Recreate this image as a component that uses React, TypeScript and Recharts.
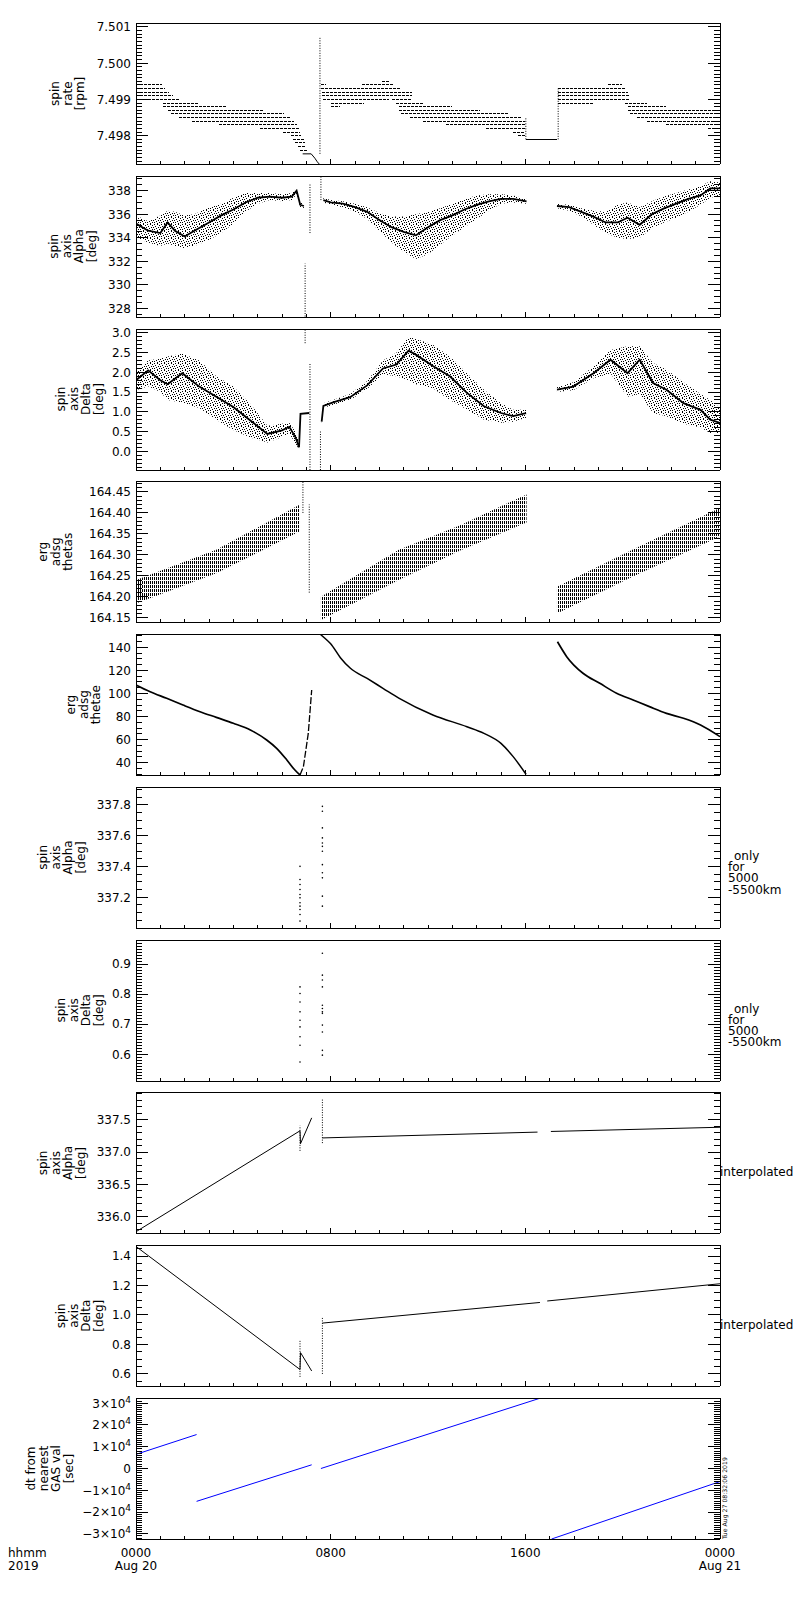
import React from 'react';
import { Area, ComposedChart, Line, XAxis, YAxis } from 'recharts';

const FONT = '"DejaVu Sans", Verdana, sans-serif';
const INK = '#000';
const BLUE = '#0000ff';

// x axis: hours after 2019-08-20 0000 UT
const X_MAJOR = [0, 8, 16, 24];
const X_HOURS = [0, 1, 2, 3, 4, 5, 6, 7, 8, 9, 10, 11, 12, 13, 14, 15, 16, 17, 18, 19, 20, 21, 22, 23, 24];
const X_TIME_LABELS = ['0000', '0800', '1600', '0000'];
const X_DATE_LABELS = ['Aug 20', '', '', 'Aug 21'];

// spin rate [rpm]: quantised levels as [level, from h, to h]
const RATE_RUNS: [number, number, number][] = [
  [7.4994, 0, 1.06], [7.4993, 0, 1.2], [7.4992, 0, 1.35], [7.4991, 0, 1.5], [7.499, 0, 1.75],
  [7.4989, 1.1, 2.56], [7.4988, 1.1, 3.7], [7.4987, 1.3, 5.2], [7.4986, 1.45, 6.1],
  [7.4985, 1.75, 6.35], [7.4984, 2.3, 6.5], [7.4983, 3.4, 6.6], [7.4982, 5.1, 6.7],
  [7.4981, 6.05, 6.75], [7.498, 6.35, 6.8], [7.4979, 6.45, 6.9], [7.4978, 6.55, 6.95],
  [7.4977, 6.65, 7.0], [7.4976, 6.75, 7.05],
  [7.4995, 10.1, 10.44], [7.4994, 7.6, 7.8], [7.4994, 9.28, 10.58], [7.4993, 7.6, 10.85],
  [7.4992, 7.65, 11.33], [7.4991, 7.65, 11.33], [7.499, 7.7, 10.4], [7.499, 10.5, 11.33],
  [7.4989, 8.0, 9.35], [7.4989, 10.7, 11.8], [7.4988, 8.0, 8.4], [7.4988, 10.8, 12.97],
  [7.4987, 10.8, 14.14], [7.4986, 10.9, 15.3], [7.4985, 11.26, 15.85], [7.4984, 11.8, 16.0],
  [7.4983, 12.75, 16.0], [7.4982, 14.4, 16.0], [7.4981, 15.5, 16.0], [7.498, 15.7, 16.0],
  [7.4994, 19.4, 19.96], [7.4993, 17.35, 20.1], [7.4992, 17.35, 20.2], [7.4991, 17.35, 20.3],
  [7.499, 17.35, 20.3], [7.4989, 17.35, 18.8], [7.4989, 20.1, 21.0], [7.4988, 20.2, 21.8],
  [7.4987, 20.2, 23.9], [7.4986, 20.3, 24], [7.4985, 20.6, 24], [7.4984, 21.0, 24],
  [7.4983, 21.8, 23.9], [7.4982, 23.5, 23.9],
];
const RATE_FLAT: [number, number][] = [[16.03, 7.4979], [17.32, 7.4979]];
const RATE_DROP: [number, number][] = [[6.85, 7.4975], [7.2, 7.4975], [7.35, 7.49738], [7.45, 7.49728], [7.53, 7.49722]];
const RATE_SPIKES: [number, number, number][] = [[7.56, 7.4975, 7.50073], [16.02, 7.4979, 7.4985], [17.35, 7.4979, 7.4993]];

// spin axis alpha [deg]: [h, dense core, cloud low, cloud high]
const ALPHA_CLOUD_A: [number, number, number, number][] = [
  [0, 335.2, 334.0, 335.9], [0.5, 334.6, 333.6, 335.4], [1.0, 334.4, 333.3, 335.9],
  [1.3, 335.3, 333.5, 336.3], [1.6, 334.6, 333.3, 336.2], [2.0, 334.1, 333.1, 335.9],
  [2.4, 334.6, 333.3, 336.0], [3.0, 335.3, 333.8, 336.6], [3.5, 335.9, 334.4, 336.9],
  [4.0, 336.4, 335.2, 337.4], [4.5, 337.0, 336.2, 337.8], [5.0, 337.4, 336.9, 337.8],
  [5.5, 337.5, 337.2, 337.8], [6.0, 337.4, 337.1, 337.7], [6.4, 337.5, 337.2, 337.8],
  [6.6, 338.0, 337.7, 338.2], [6.75, 336.8, 336.6, 337.0], [6.9, 336.7, 336.5, 336.9],
];
const ALPHA_CLOUD_B: [number, number, number, number][] = [
  [7.7, 337.2, 337.0, 337.4], [8.0, 337.0, 336.8, 337.2], [8.5, 336.9, 336.6, 337.1],
  [9.0, 336.6, 336.2, 336.9], [9.5, 336.2, 335.6, 336.6], [10.0, 335.5, 334.6, 336.1],
  [10.5, 334.9, 333.6, 335.8], [11.0, 334.5, 332.8, 335.8], [11.5, 334.2, 332.2, 336.0],
  [12.0, 334.9, 332.6, 336.2], [12.5, 335.5, 333.4, 336.5], [13.0, 335.9, 334.2, 336.9],
  [13.5, 336.4, 334.9, 337.3], [14.0, 336.8, 335.6, 337.6], [14.5, 337.1, 336.3, 337.7],
  [15.0, 337.3, 336.9, 337.7], [15.5, 337.3, 337.0, 337.6], [16.05, 337.1, 336.9, 337.3],
];
const ALPHA_CLOUD_C: [number, number, number, number][] = [
  [17.3, 336.7, 336.5, 336.9], [17.8, 336.6, 336.3, 336.8], [18.3, 336.2, 335.8, 336.5],
  [18.8, 335.8, 335.1, 336.3], [19.3, 335.3, 334.4, 336.2], [19.8, 335.3, 334.0, 336.8],
  [20.2, 335.7, 333.9, 337.0], [20.7, 335.1, 334.0, 336.6], [21.2, 336.0, 334.8, 337.1],
  [21.7, 336.5, 335.3, 337.5], [22.2, 336.9, 335.7, 337.8], [22.7, 337.3, 336.2, 338.1],
  [23.2, 337.6, 336.8, 338.4], [23.6, 338.2, 337.4, 338.8], [24, 338.2, 337.6, 338.7],
];
const ALPHA_SPIKES: [number, number, number][] = [[6.95, 327.3, 331.8], [7.15, 334.4, 338.6], [7.6, 337.2, 339.2]];

// spin axis delta [deg]
const DELTA_CLOUD_A: [number, number, number, number][] = [
  [0, 1.8, 1.55, 2.05], [0.5, 2.05, 1.65, 2.3], [1.0, 1.8, 1.5, 2.35], [1.3, 1.7, 1.3, 2.4],
  [1.9, 1.98, 1.23, 2.48], [2.6, 1.64, 1.1, 2.3], [3.3, 1.38, 0.8, 1.9], [4.0, 1.12, 0.54, 1.64],
  [4.7, 0.78, 0.35, 1.2], [5.4, 0.44, 0.22, 0.65], [6.0, 0.53, 0.36, 0.7], [6.3, 0.62, 0.45, 0.72],
  [6.55, 0.36, 0.2, 0.5], [6.7, 0.1, 0.05, 0.25],
];
const DELTA_JUMP: [number, number][] = [[6.7, 0.1], [6.76, 0.95], [7.12, 0.97]];
const DELTA_CLOUD_B: [number, number, number, number][] = [
  [7.63, 0.75, 0.7, 0.8], [7.7, 1.15, 1.1, 1.22], [8.1, 1.24, 1.18, 1.3], [8.8, 1.37, 1.3, 1.45],
  [9.5, 1.67, 1.58, 1.78], [10.15, 2.1, 1.95, 2.3], [10.7, 2.2, 1.9, 2.5], [11.2, 2.55, 1.8, 2.9],
  [11.5, 2.45, 1.7, 2.85], [12.2, 2.16, 1.6, 2.7], [12.9, 1.9, 1.3, 2.4], [13.6, 1.48, 1.06, 1.98],
  [14.3, 1.14, 0.8, 1.56], [15.0, 0.97, 0.72, 1.22], [15.5, 0.89, 0.75, 1.05], [16.03, 0.97, 0.85, 1.05],
];
const DELTA_CLOUD_C: [number, number, number, number][] = [
  [17.3, 1.56, 1.5, 1.62], [17.97, 1.64, 1.55, 1.75], [18.8, 1.98, 1.85, 2.15], [19.5, 2.32, 1.97, 2.57],
  [20.2, 1.98, 1.38, 2.66], [20.7, 2.32, 1.45, 2.66], [21.25, 1.73, 0.97, 2.24], [21.8, 1.56, 0.89, 2.07],
  [22.5, 1.22, 0.7, 1.75], [23.2, 1.05, 0.6, 1.45], [23.6, 0.8, 0.46, 1.3], [24, 0.72, 0.46, 1.1],
];
const DELTA_SPIKES: [number, number, number][] = [[6.95, 2.74, 3.1], [7.15, -0.475, 2.25], [7.58, -0.475, 0.5]];

// erg adsg thetas: [h, low, high]
const THETAS_A: [number, number, number][] = [[0, 164.184, 164.24], [3.3, 164.256, 164.312], [6.74, 164.356, 164.42]];
const THETAS_B: [number, number, number][] = [[7.6, 164.145, 164.2], [10.8, 164.24, 164.312], [13.3, 164.31, 164.37], [16.05, 164.377, 164.444]];
const THETAS_C: [number, number, number][] = [[17.3, 164.16, 164.224], [20.4, 164.248, 164.312], [24, 164.344, 164.412]];
const THETAS_SPIKES: [number, number, number][] = [[6.86, 164.4, 164.476], [7.12, 164.21, 164.42]];

// erg adsg thetae: [h, value]
const THETAE_A: [number, number][] = [
  [0, 107.3], [0.58, 101.5], [1.26, 95.8], [1.93, 90.0], [2.63, 84.2], [3.3, 79.3], [4.0, 74.2],
  [4.7, 68.4], [5.37, 59.7], [5.78, 52.5], [6.2, 42.4], [6.53, 33.7], [6.74, 29.4],
];
const THETAE_RISE: [number, number][] = [[6.74, 29.4], [6.88, 36.6], [7.08, 65.4], [7.22, 103]];
const THETAE_B: [number, number][] = [
  [7.56, 151.5], [7.75, 148], [8.0, 143], [8.4, 131], [8.8, 122], [9.5, 113], [10.15, 104.5],
  [10.8, 96], [12.2, 81.4], [13.6, 71.2], [14.3, 65.5], [15.0, 56.8], [15.5, 45.3], [16.03, 30.0],
];
const THETAE_C: [number, number][] = [
  [17.32, 144.8], [17.7, 131.9], [18.37, 117.5], [19.06, 108.8], [19.75, 100.2], [20.43, 94.4],
  [21.1, 88.6], [21.8, 82.8], [22.5, 78.5], [23.2, 72.7], [24, 62.6],
];

// spin axis alpha / delta, only for 5000-5500 km: [h, value]
const ALPHA_RANGE_PTS: [number, number][] = [
  [6.74, 337.401], [6.74, 337.315], [6.74, 337.283], [6.74, 337.25], [6.74, 337.218], [6.74, 337.196],
  [6.74, 337.164], [6.74, 337.142], [6.74, 337.12], [6.74, 337.088], [6.74, 337.045],
  [7.66, 337.791], [7.66, 337.759], [7.66, 337.651], [7.66, 337.586], [7.66, 337.553], [7.66, 337.531],
  [7.66, 337.499], [7.66, 337.412], [7.66, 337.359], [7.66, 337.326], [7.66, 337.207], [7.66, 337.142],
];
const DELTA_RANGE_PTS: [number, number][] = [
  [6.74, 0.824], [6.74, 0.802], [6.74, 0.774], [6.74, 0.741], [6.74, 0.713], [6.74, 0.691],
  [6.74, 0.658], [6.74, 0.63], [6.74, 0.574],
  [7.66, 0.936], [7.66, 0.863], [7.66, 0.847], [7.66, 0.824], [7.66, 0.763], [7.66, 0.752],
  [7.66, 0.741], [7.66, 0.736], [7.66, 0.697], [7.66, 0.674], [7.66, 0.613], [7.66, 0.597],
];

// interpolated alpha / delta
const ALPHA_INTERP_A: [number, number][] = [[0, 335.77], [6.74, 337.33], [6.76, 337.13], [7.22, 337.53]];
const ALPHA_INTERP_B: [number, number][] = [[7.66, 337.22], [16.5, 337.31]];
const ALPHA_INTERP_C: [number, number][] = [[17.05, 337.32], [24, 337.385]];
const ALPHA_INTERP_SPIKES: [number, number, number][] = [[6.74, 337.02, 337.41], [7.66, 337.14, 337.83]];
const DELTA_INTERP_A: [number, number][] = [[0, 1.465], [6.74, 0.63], [6.76, 0.745], [7.22, 0.62]];
const DELTA_INTERP_B: [number, number][] = [[7.66, 0.945], [16.6, 1.085]];
const DELTA_INTERP_C: [number, number][] = [[16.9, 1.095], [24, 1.212]];
const DELTA_INTERP_SPIKES: [number, number, number][] = [[6.74, 0.58, 0.83], [7.66, 0.6, 0.98]];

// dt from nearest GAS value [sec]
const GAS_DT: [number, number][][] = [
  [[0, 6500], [2.49, 15600]],
  [[2.49, -15100], [7.22, 1700]],
  [[7.6, 0], [16.63, 32400]],
  [[17.08, -32400], [24, -6000]],
];

// layout
const PLOT_TOP = 23;
const PLOT_PITCH = 152.78;
const PLOT_H = 141;
const PLOT_LEFT = 136;
const PLOT_RIGHT = 720;
const Y_AXIS_W = 60;
const SPECK: [number, number][] = [[0, 0], [3, 0], [5, 1], [1, 2], [4, 3], [6, 3], [2, 4], [0, 5], [5, 5], [3, 6]];

const NOTE_RANGE = ['only', 'for', '5000', '-5500km'];
const NOTE_INTERP = ['interpolated'];

const pts = (rows: [number, number][]) => rows.map(([h, v]) => ({ h, v }));

const line = (key: string, rows: [number, number][], extra: any = {}) => (
  <Line
    key={key}
    data={pts(rows)}
    dataKey="v"
    xAxisId="b"
    yAxisId="l"
    type="linear"
    stroke={INK}
    strokeWidth={1}
    dot={false}
    activeDot={false}
    isAnimationActive={false}
    {...extra}
  />
);

const spike = (key: string, [h, lo, hi]: [number, number, number]) =>
  line(key, [[h, lo], [h, hi]], { strokeDasharray: '1 1.5' });

const cloud = (key: string, rows: [number, number, number][], fill: string) => (
  <Area
    key={key}
    data={rows.map(([h, lo, hi]) => ({ h, r: [lo, hi] }))}
    dataKey="r"
    xAxisId="b"
    yAxisId="l"
    type="linear"
    stroke="none"
    fill={fill}
    fillOpacity={1}
    dot={false}
    activeDot={false}
    isAnimationActive={false}
  />
);

const withCore = (key: string, rows: [number, number, number, number][]) => [
  cloud(key + '-c', rows.map(r => [r[0], r[2], r[3]] as [number, number, number]), 'url(#speck)'),
  line(key + '-l', rows.map(r => [r[0], r[1]] as [number, number]), { strokeWidth: 1.8 }),
];

const dots = (key: string, rows: [number, number][]) =>
  line(key, rows, { stroke: 'none', dot: { r: 0.8, fill: INK, stroke: 'none' } });

const sciTick = (v: number) =>
  v === 0 ? (
    '0'
  ) : (
    <>
      {v < 0 ? '\u2212' : ''}
      {Math.abs(v) / 1e4}×10
      <tspan dy={-5} fontSize={9}>4</tspan>
    </>
  );

const PANELS = [
  {
    title: ['spin', 'rate', '[rpm]'], titleX: 55,
    domain: [7.49722, 7.50111], major: [7.498, 7.499, 7.5, 7.501], minorStep: 0.0001,
    fmt: (v: number) => v.toFixed(3),
    render: () => [
      ...RATE_RUNS.map(([lv, a, b], i) =>
        line('run' + i, [[a, lv], [b, lv]], { strokeDasharray: '3 1', shapeRendering: 'crispEdges' })),
      line('flat', RATE_FLAT, { shapeRendering: 'crispEdges' }),
      line('drop', RATE_DROP),
      ...RATE_SPIKES.map((s, i) => spike('sp' + i, s)),
    ],
  },
  {
    title: ['spin', 'axis', 'Alpha', '[deg]'], titleX: 54,
    domain: [327.26, 339.25], major: [328, 330, 332, 334, 336, 338], minorStep: 0.5,
    fmt: (v: number) => v.toFixed(0),
    render: () => [
      ...withCore('a', ALPHA_CLOUD_A), ...withCore('b', ALPHA_CLOUD_B), ...withCore('c', ALPHA_CLOUD_C),
      ...ALPHA_SPIKES.map((s, i) => spike('sp' + i, s)),
    ],
  },
  {
    title: ['spin', 'axis', 'Delta', '[deg]'], titleX: 61,
    domain: [-0.475, 3.1], major: [0, 0.5, 1.0, 1.5, 2.0, 2.5, 3.0], minorStep: 0.1,
    fmt: (v: number) => v.toFixed(1),
    render: () => [
      ...withCore('a', DELTA_CLOUD_A), line('jump', DELTA_JUMP, { strokeWidth: 1.8 }),
      ...withCore('b', DELTA_CLOUD_B), ...withCore('c', DELTA_CLOUD_C),
      ...DELTA_SPIKES.map((s, i) => spike('sp' + i, s)),
    ],
  },
  {
    title: ['erg', 'adsg', 'thetas'], titleX: 43,
    domain: [164.14, 164.476], major: [164.15, 164.2, 164.25, 164.3, 164.35, 164.4, 164.45], minorStep: 0.01,
    fmt: (v: number) => v.toFixed(2),
    render: () => [
      cloud('a', THETAS_A, 'url(#hatch)'), cloud('b', THETAS_B, 'url(#hatch)'), cloud('c', THETAS_C, 'url(#hatch)'),
      ...THETAS_SPIKES.map((s, i) => spike('sp' + i, s)),
    ],
  },
  {
    title: ['erg', 'adsg', 'thetae'], titleX: 71,
    domain: [29.4, 151.5], major: [40, 60, 80, 100, 120, 140], minorStep: 5,
    fmt: (v: number) => v.toFixed(0),
    render: () => [
      line('a', THETAE_A, { strokeWidth: 1.7, type: 'monotone' }),
      line('r', THETAE_RISE, { strokeWidth: 1.3, strokeDasharray: '7 2' }),
      line('b', THETAE_B, { strokeWidth: 1.5, type: 'monotone' }),
      line('c', THETAE_C, { strokeWidth: 1.7, type: 'monotone' }),
    ],
  },
  {
    title: ['spin', 'axis', 'Alpha', '[deg]'], titleX: 43, note: NOTE_RANGE,
    domain: [337.0, 337.917], major: [337.2, 337.4, 337.6, 337.8], minorStep: 0.05,
    fmt: (v: number) => v.toFixed(1),
    render: () => [dots('d', ALPHA_RANGE_PTS)],
  },
  {
    title: ['spin', 'axis', 'Delta', '[deg]'], titleX: 61, note: NOTE_RANGE,
    domain: [0.511, 0.98], major: [0.6, 0.7, 0.8, 0.9], minorStep: 0.01,
    fmt: (v: number) => v.toFixed(1),
    render: () => [dots('d', DELTA_RANGE_PTS)],
  },
  {
    title: ['spin', 'axis', 'Alpha', '[deg]'], titleX: 43, note: NOTE_INTERP,
    domain: [335.75, 337.93], major: [336.0, 336.5, 337.0, 337.5], minorStep: 0.1,
    fmt: (v: number) => v.toFixed(1),
    render: () => [
      line('a', ALPHA_INTERP_A), line('b', ALPHA_INTERP_B), line('c', ALPHA_INTERP_C),
      ...ALPHA_INTERP_SPIKES.map((s, i) => spike('sp' + i, s)),
    ],
  },
  {
    title: ['spin', 'axis', 'Delta', '[deg]'], titleX: 61, note: NOTE_INTERP,
    domain: [0.518, 1.475], major: [0.6, 0.8, 1.0, 1.2, 1.4], minorStep: 0.05,
    fmt: (v: number) => v.toFixed(1),
    render: () => [
      line('a', DELTA_INTERP_A), line('b', DELTA_INTERP_B), line('c', DELTA_INTERP_C),
      ...DELTA_INTERP_SPIKES.map((s, i) => spike('sp' + i, s)),
    ],
  },
  {
    title: ['dt from', 'nearest', 'GAS val', '[sec]'], titleX: 31,
    domain: [-32400, 32400], major: [-30000, -20000, -10000, 0, 10000, 20000, 30000], minorStep: 1000,
    fmt: sciTick,
    render: () => GAS_DT.map((seg, i) => line('g' + i, seg, { stroke: BLUE })),
  },
];

function minorTicks([lo, hi]: number[], step: number) {
  const out: number[] = [];
  const n0 = Math.ceil(lo / step - 1e-9);
  const n1 = Math.floor(hi / step + 1e-9);
  for (let n = n0; n <= n1; n++) out.push(+(n * step).toFixed(6));
  return out;
}

const isMajor = (v: number, major: number[]) =>
  major.some(m => Math.abs(m - v) < 1e-7 * (Math.abs(m) + 1));

const textStyle = { fontSize: 12, fontFamily: FONT, fill: INK };

const LeftTick = (props: any) => {
  const { x, y, payload, major, fmt } = props;
  const big = isMajor(payload.value, major);
  return (
    <g>
      <line x1={x} x2={x + (big ? 12 : 6)} y1={y} y2={y} stroke={INK} shapeRendering="crispEdges" />
      {big && (
        <text x={x - 5} y={y} dy="0.36em" textAnchor="end" {...textStyle}>
          {fmt(payload.value)}
        </text>
      )}
    </g>
  );
};

const RightTick = (props: any) => {
  const { x, y, payload, major } = props;
  const big = isMajor(payload.value, major);
  return <line x1={x} x2={x - (big ? 12 : 6)} y1={y} y2={y} stroke={INK} shapeRendering="crispEdges" />;
};

const BottomTick = (props: any) => {
  const { x, y, payload, labels } = props;
  const idx = X_MAJOR.indexOf(payload.value);
  return (
    <g>
      <line x1={x} x2={x} y1={y} y2={y - (idx >= 0 ? 5 : 3)} stroke={INK} shapeRendering="crispEdges" />
      {labels && idx >= 0 && (
        <text x={x} y={y + 18} textAnchor="middle" {...textStyle}>{X_TIME_LABELS[idx]}</text>
      )}
      {labels && idx >= 0 && X_DATE_LABELS[idx] && (
        <text x={x} y={y + 31} textAnchor="middle" {...textStyle}>{X_DATE_LABELS[idx]}</text>
      )}
    </g>
  );
};

const TopTick = (props: any) => {
  const { x, y, payload } = props;
  const idx = X_MAJOR.indexOf(payload.value);
  return <line x1={x} x2={x} y1={y} y2={y + (idx >= 0 ? 5 : 3)} stroke={INK} shapeRendering="crispEdges" />;
};

const AXIS = { stroke: INK, strokeWidth: 1, shapeRendering: 'crispEdges' };

// axes of zero size are not drawn, so the frame axes get 1px each
const EDGE = 1;

function Panel({ cfg, top, last }: { cfg: any; top: number; last: boolean }) {
  const padTop = 8;
  const padBottom = last ? 44 : 8;
  const yTicks = Array.from(new Set([...minorTicks(cfg.domain, cfg.minorStep), ...cfg.major])).sort((a, b) => a - b);
  return (
    <div style={{ position: 'absolute', left: 0, top: top - padTop }}>
      <ComposedChart
        width={800}
        height={PLOT_H + padTop + padBottom}
        margin={{
          top: padTop - EDGE,
          right: 800 - PLOT_RIGHT - EDGE,
          bottom: padBottom - EDGE,
          left: PLOT_LEFT - Y_AXIS_W,
        }}
      >
        <XAxis
          xAxisId="b" type="number" dataKey="h" domain={[0, 24]} allowDataOverflow
          ticks={X_HOURS} interval={0} height={EDGE} tickSize={0} tickMargin={0}
          tickLine={false} axisLine={AXIS} tick={<BottomTick labels={last} />}
        />
        <XAxis
          xAxisId="t" orientation="top" type="number" domain={[0, 24]} allowDataOverflow
          ticks={X_HOURS} interval={0} height={EDGE} tickSize={0} tickMargin={0}
          tickLine={false} axisLine={AXIS} tick={<TopTick />}
        />
        <YAxis
          yAxisId="l" type="number" domain={cfg.domain} allowDataOverflow
          ticks={yTicks} interval={0} width={Y_AXIS_W} tickSize={0} tickMargin={0}
          tickLine={false} axisLine={AXIS} tick={<LeftTick major={cfg.major} fmt={cfg.fmt} />}
        />
        <YAxis
          yAxisId="r" orientation="right" type="number" domain={cfg.domain} allowDataOverflow
          ticks={yTicks} interval={0} width={EDGE} tickSize={0} tickMargin={0}
          tickLine={false} axisLine={AXIS} tick={<RightTick major={cfg.major} />}
        />
        {cfg.render()}
      </ComposedChart>
    </div>
  );
}

const panelTop = (i: number) => PLOT_TOP + i * PLOT_PITCH;

export default function App() {
  const lastBottom = panelTop(PANELS.length - 1) + PLOT_H;
  return (
    <div style={{ position: 'absolute', left: 0, top: 0, width: 800, height: 1600, background: '#fff' }}>
      {PANELS.map((p, i) => (
        <Panel key={i} cfg={p} top={panelTop(i)} last={i === PANELS.length - 1} />
      ))}
      <svg width={800} height={1600} style={{ position: 'absolute', left: 0, top: 0, pointerEvents: 'none' }}>
        <defs>
          <pattern id="speck" width={7} height={7} patternUnits="userSpaceOnUse">
            {SPECK.map(([x, y], i) => <rect key={i} x={x} y={y} width={1} height={1} fill={INK} />)}
          </pattern>
          <pattern id="hatch" width={2} height={4} patternUnits="userSpaceOnUse">
            <rect x={0} y={0} width={1} height={3} fill={INK} />
          </pattern>
        </defs>
        {PANELS.map((p, i) => {
          const cy = panelTop(i) + PLOT_H / 2;
          return p.title.map((t, j) => {
            const bx = p.titleX + j * 12.5 + 4.3;
            return (
              <text key={`t${i}-${j}`} x={bx} y={cy} textAnchor="middle" transform={`rotate(-90 ${bx} ${cy})`} {...textStyle}>
                {t}
              </text>
            );
          });
        })}
        {PANELS.map((p: any, i) => {
          if (!p.note) return null;
          const t0 = panelTop(i);
          if (p.note.length === 1) {
            return (
              <text key={`n${i}`} x={PLOT_RIGHT} y={t0 + 84} {...textStyle}>{p.note[0]}</text>
            );
          }
          return p.note.map((t: string, j: number) => (
            <text key={`n${i}-${j}`} x={j === 0 ? 734 : 728} y={t0 + 73 + j * 11.2} {...textStyle}>{t}</text>
          ));
        })}
        <text x={8} y={lastBottom + 18} {...textStyle}>hhmm</text>
        <text x={8} y={lastBottom + 31} {...textStyle}>2019</text>
        <text
          x={727} y={lastBottom} fontSize={6.2} fontFamily={FONT} fill={INK}
          transform={`rotate(-90 727 ${lastBottom})`}
        >
          Tue Aug 27 08:32:06 2019
        </text>
      </svg>
    </div>
  );
}
